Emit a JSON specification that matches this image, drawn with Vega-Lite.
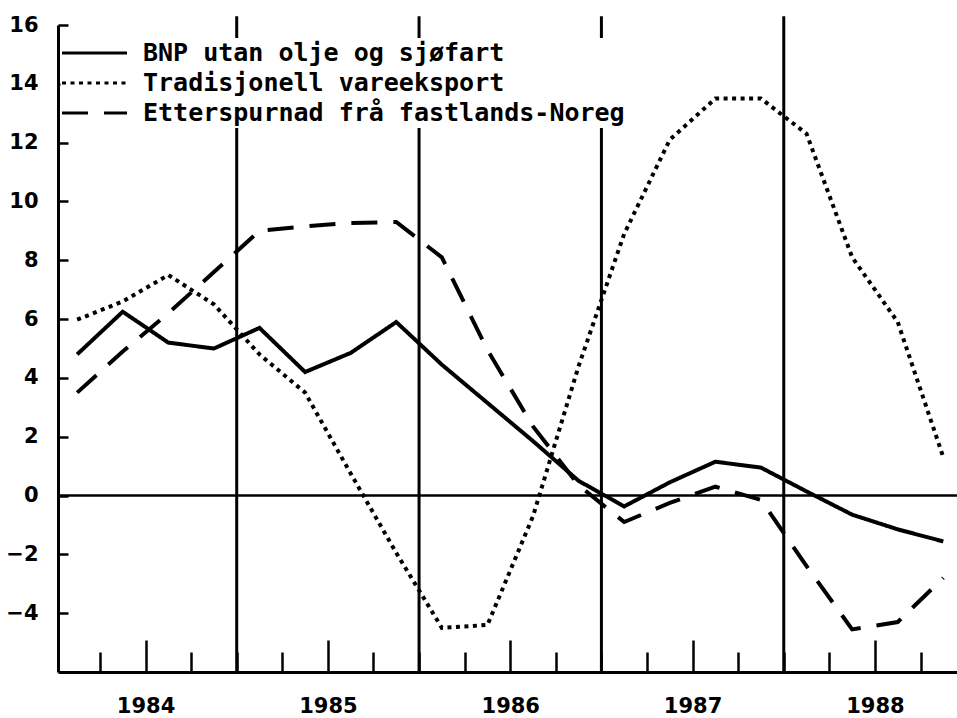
{
  "$schema": "https://vega.github.io/schema/vega-lite/v6.json",
  "width": 899,
  "height": 647,
  "autosize": {"type": "none"},
  "padding": {"left": 58, "top": 25, "right": 0, "bottom": 46},
  "background": "white",
  "config": {"view": {"stroke": null}, "axis": {"grid": false}},
  "datasets": {
    "series": [
      {"serie": "BNP utan olje og sjøfart", "t": 1984.125, "value": 4.8},
      {"serie": "BNP utan olje og sjøfart", "t": 1984.375, "value": 6.25},
      {"serie": "BNP utan olje og sjøfart", "t": 1984.625, "value": 5.2},
      {"serie": "BNP utan olje og sjøfart", "t": 1984.875, "value": 5.0},
      {"serie": "BNP utan olje og sjøfart", "t": 1985.125, "value": 5.7},
      {"serie": "BNP utan olje og sjøfart", "t": 1985.375, "value": 4.2},
      {"serie": "BNP utan olje og sjøfart", "t": 1985.625, "value": 4.85},
      {"serie": "BNP utan olje og sjøfart", "t": 1985.875, "value": 5.9},
      {"serie": "BNP utan olje og sjøfart", "t": 1986.125, "value": 4.45},
      {"serie": "BNP utan olje og sjøfart", "t": 1986.375, "value": 3.15},
      {"serie": "BNP utan olje og sjøfart", "t": 1986.625, "value": 1.85},
      {"serie": "BNP utan olje og sjøfart", "t": 1986.875, "value": 0.5},
      {"serie": "BNP utan olje og sjøfart", "t": 1987.125, "value": -0.37},
      {"serie": "BNP utan olje og sjøfart", "t": 1987.375, "value": 0.45},
      {"serie": "BNP utan olje og sjøfart", "t": 1987.625, "value": 1.15},
      {"serie": "BNP utan olje og sjøfart", "t": 1987.875, "value": 0.95},
      {"serie": "BNP utan olje og sjøfart", "t": 1988.125, "value": 0.14},
      {"serie": "BNP utan olje og sjøfart", "t": 1988.375, "value": -0.65},
      {"serie": "BNP utan olje og sjøfart", "t": 1988.625, "value": -1.15},
      {"serie": "BNP utan olje og sjøfart", "t": 1988.875, "value": -1.56},
      {"serie": "Tradisjonell vareeksport", "t": 1984.125, "value": 5.98},
      {"serie": "Tradisjonell vareeksport", "t": 1984.375, "value": 6.6},
      {"serie": "Tradisjonell vareeksport", "t": 1984.625, "value": 7.5},
      {"serie": "Tradisjonell vareeksport", "t": 1984.875, "value": 6.5},
      {"serie": "Tradisjonell vareeksport", "t": 1985.125, "value": 4.8},
      {"serie": "Tradisjonell vareeksport", "t": 1985.375, "value": 3.5},
      {"serie": "Tradisjonell vareeksport", "t": 1985.625, "value": 0.75},
      {"serie": "Tradisjonell vareeksport", "t": 1985.875, "value": -1.95},
      {"serie": "Tradisjonell vareeksport", "t": 1986.125, "value": -4.5},
      {"serie": "Tradisjonell vareeksport", "t": 1986.375, "value": -4.4},
      {"serie": "Tradisjonell vareeksport", "t": 1986.625, "value": -0.7},
      {"serie": "Tradisjonell vareeksport", "t": 1986.875, "value": 4.4},
      {"serie": "Tradisjonell vareeksport", "t": 1987.125, "value": 8.9},
      {"serie": "Tradisjonell vareeksport", "t": 1987.375, "value": 12.1},
      {"serie": "Tradisjonell vareeksport", "t": 1987.625, "value": 13.5},
      {"serie": "Tradisjonell vareeksport", "t": 1987.875, "value": 13.5},
      {"serie": "Tradisjonell vareeksport", "t": 1988.125, "value": 12.3},
      {"serie": "Tradisjonell vareeksport", "t": 1988.375, "value": 8.1},
      {"serie": "Tradisjonell vareeksport", "t": 1988.625, "value": 5.9},
      {"serie": "Tradisjonell vareeksport", "t": 1988.875, "value": 1.3},
      {"serie": "Etterspurnad frå fastlands-Noreg", "t": 1984.125, "value": 3.5},
      {"serie": "Etterspurnad frå fastlands-Noreg", "t": 1984.375, "value": 4.9},
      {"serie": "Etterspurnad frå fastlands-Noreg", "t": 1984.625, "value": 6.2},
      {"serie": "Etterspurnad frå fastlands-Noreg", "t": 1984.875, "value": 7.6},
      {"serie": "Etterspurnad frå fastlands-Noreg", "t": 1985.125, "value": 9.0},
      {"serie": "Etterspurnad frå fastlands-Noreg", "t": 1985.375, "value": 9.15},
      {"serie": "Etterspurnad frå fastlands-Noreg", "t": 1985.625, "value": 9.27},
      {"serie": "Etterspurnad frå fastlands-Noreg", "t": 1985.875, "value": 9.3},
      {"serie": "Etterspurnad frå fastlands-Noreg", "t": 1986.125, "value": 8.1},
      {"serie": "Etterspurnad frå fastlands-Noreg", "t": 1986.375, "value": 4.95},
      {"serie": "Etterspurnad frå fastlands-Noreg", "t": 1986.625, "value": 2.35},
      {"serie": "Etterspurnad frå fastlands-Noreg", "t": 1986.875, "value": 0.35},
      {"serie": "Etterspurnad frå fastlands-Noreg", "t": 1987.125, "value": -0.9},
      {"serie": "Etterspurnad frå fastlands-Noreg", "t": 1987.375, "value": -0.25},
      {"serie": "Etterspurnad frå fastlands-Noreg", "t": 1987.625, "value": 0.3},
      {"serie": "Etterspurnad frå fastlands-Noreg", "t": 1987.875, "value": -0.15},
      {"serie": "Etterspurnad frå fastlands-Noreg", "t": 1988.125, "value": -2.4},
      {"serie": "Etterspurnad frå fastlands-Noreg", "t": 1988.375, "value": -4.55},
      {"serie": "Etterspurnad frå fastlands-Noreg", "t": 1988.625, "value": -4.3},
      {"serie": "Etterspurnad frå fastlands-Noreg", "t": 1988.875, "value": -2.8}
    ],
    "years": [{"t": 1985}, {"t": 1986}, {"t": 1987}, {"t": 1988}],
    "zero": [{"value": 0}]
  },
  "layer": [
    {
      "data": {"name": "series"},
      "mark": {"type": "line", "color": "black", "strokeWidth": 4, "clip": true},
      "encoding": {
        "x": {
          "field": "t",
          "type": "quantitative",
          "scale": {"domain": [1984.02, 1988.95], "nice": false, "zero": false},
          "axis": {
            "title": null,
            "values": [1984.25, 1984.5, 1984.75, 1985, 1985.25, 1985.5, 1985.75, 1986, 1986.25, 1986.5, 1986.75, 1987, 1987.25, 1987.5, 1987.75, 1988, 1988.25, 1988.5, 1988.75],
            "domainColor": "black",
            "domainWidth": 3,
            "tickColor": "black",
            "tickWidth": 2.5,
            "tickSize": {"condition": {"test": "datum.value % 1 == 0.5", "value": -32}, "value": -20},
            "labelExpr": "datum.value % 1 == 0.5 ? '' + floor(datum.value) : ''",
            "labelPadding": 66,
            "labelBaseline": "middle",
            "labelFont": "DejaVu Sans",
            "labelFontWeight": "bold",
            "labelFontSize": 21,
            "labelColor": "black",
            "labelFlush": false,
            "labelOverlap": false
          }
        },
        "y": {
          "field": "value",
          "type": "quantitative",
          "scale": {"domain": [-6, 16], "nice": false, "zero": false},
          "axis": {
            "title": null,
            "values": [-4, -2, 0, 2, 4, 6, 8, 10, 12, 14, 16],
            "domainColor": "black",
            "domainWidth": 3,
            "tickColor": "black",
            "tickWidth": 2.5,
            "tickSize": -10,
            "labelPadding": 30,
            "labelBaseline": "middle",
            "labelFont": "DejaVu Sans",
            "labelFontWeight": "bold",
            "labelFontSize": 21,
            "labelColor": "black",
            "labelFlush": false,
            "labelOverlap": false
          }
        },
        "detail": {"field": "serie"},
        "strokeDash": {
          "field": "serie",
          "type": "nominal",
          "scale": {
            "domain": ["BNP utan olje og sjøfart", "Tradisjonell vareeksport", "Etterspurnad frå fastlands-Noreg"],
            "range": [[1, 0], [4, 4.5], [26, 16]]
          },
          "legend": {
            "title": null,
            "orient": "none",
            "legendX": 2.5,
            "legendY": 13,
            "padding": 0,
            "fillColor": "white",
            "symbolType": "stroke",
            "symbolSize": 4225,
            "symbolStrokeWidth": 3,
            "symbolStrokeColor": "black",
            "clipHeight": 30,
            "rowPadding": 0,
            "labelOffset": 14.5,
            "labelFont": "DejaVu Sans Mono",
            "labelFontWeight": "bold",
            "labelFontSize": 25,
            "labelColor": "black",
            "labelLimit": 800
          }
        }
      }
    },
    {
      "data": {"name": "zero"},
      "mark": {"type": "rule", "color": "black", "strokeWidth": 2.5},
      "encoding": {
        "y": {"field": "value", "type": "quantitative"}
      }
    },
    {
      "data": {"name": "years"},
      "mark": {"type": "rule", "color": "black", "strokeWidth": 3, "clip": false},
      "encoding": {
        "x": {"field": "t", "type": "quantitative"},
        "y": {"datum": -6, "type": "quantitative"},
        "y2": {"datum": 16.3}
      }
    }
  ]
}
